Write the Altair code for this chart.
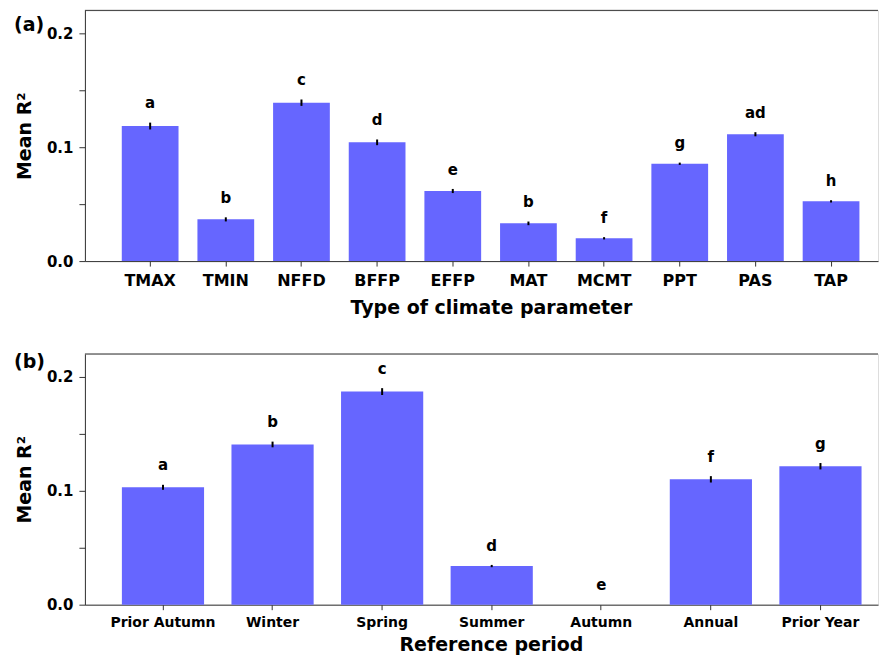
import altair as alt
import pandas as pd

# ---- data ----
params = ["TMAX", "TMIN", "NFFD", "BFFP", "EFFP", "MAT", "MCMT", "PPT", "PAS", "TAP"]
param_mean = [0.1185, 0.0366, 0.1390, 0.1042, 0.0615, 0.0331, 0.0200, 0.0854, 0.1113, 0.0524]
param_err = [0.0030, 0.0018, 0.0028, 0.0025, 0.0018, 0.0016, 0.0010, 0.0010, 0.0018, 0.0010]
param_letters = ["a", "b", "c", "d", "e", "b", "f", "g", "ad", "h"]

periods = ["Prior Autumn", "Winter", "Spring", "Summer", "Autumn", "Annual", "Prior Year"]
period_mean = [0.1030, 0.1406, 0.1870, 0.0339, 0.0, 0.1100, 0.1215]
period_err = [0.0022, 0.0025, 0.0030, 0.0010, 0.0, 0.0028, 0.0028]
period_letters = ["a", "b", "c", "d", "e", "f", "g"]

y_ticks = [0, 0.05, 0.1, 0.15, 0.2]

W = 794
BAR = "#6666ff"
AX = "#333333"


def panel(cats, means, errs, letters, tag, tag_y, xtitle, label_size, height,
          p_outer, align, title_pad):
    df = pd.DataFrame({
        "cat": cats,
        "mean": means,
        "lo": [m - e for m, e in zip(means, errs)],
        "hi": [m + e for m, e in zip(means, errs)],
        "lab_y": [m + e + 0.01 for m, e in zip(means, errs)],
        "letter": letters,
    })
    xscale = alt.Scale(paddingInner=0.25, paddingOuter=p_outer, align=align)
    xaxis = alt.Axis(title=xtitle, labelAngle=0, labelFontSize=label_size,
                     labelFontWeight="bold", labelColor="black",
                     titleFontSize=19, titleFontWeight="bold", titleColor="black",
                     tickSize=5, labelPadding=6, titlePadding=title_pad,
                     titleX=W / 2 + 9.5, titleAnchor="start", titleAlign="center",
                     domainColor=AX, tickColor=AX, grid=False)
    yscale = alt.Scale(domain=[0, 0.22], nice=False, zero=True)
    yaxis = alt.Axis(title="Mean R²", values=y_ticks,
                     labelExpr="(round(datum.value*100) % 10 == 0) ? format(datum.value, '.1f') : ''",
                     labelFontSize=15, labelFontWeight="bold", labelColor="black",
                     titleFontSize=19, titleFontWeight="bold", titleColor="black",
                     tickSize=6, labelPadding=6, titlePadding=12,
                     domainColor=AX, tickColor=AX, grid=False)
    base = alt.Chart(df)
    x = alt.X("cat:N", sort=cats, scale=xscale, axis=xaxis)
    bars = base.mark_bar(color=BAR).encode(
        x=x, y=alt.Y("mean:Q", scale=yscale, axis=yaxis))
    err = base.mark_rule(color="black", strokeWidth=2).encode(
        x=alt.X("cat:N", sort=cats), y="lo:Q", y2="hi:Q")
    txt = base.mark_text(baseline="bottom", fontSize=15, fontWeight="bold",
                         color="black").encode(
        x=alt.X("cat:N", sort=cats), y="lab_y:Q", text="letter:N")
    frame = alt.Chart(pd.DataFrame({"k": [0]})).mark_rule(
        color=AX, strokeWidth=1).encode(
        x=alt.value(0), x2=alt.value(W), y=alt.value(0))
    tag_txt = alt.Chart(pd.DataFrame({"t": [tag]})).mark_text(
        align="left", baseline="alphabetic", fontSize=19, fontWeight="bold",
        color="black").encode(x=alt.value(-71), y=alt.value(tag_y), text="t:N")
    return alt.layer(bars, err, txt, frame, tag_txt).properties(width=W, height=height)


top = panel(params, param_mean, param_err, param_letters, "(a)", 20.5,
            "Type of climate parameter", 16, 251, 0.3664, 0.665, 10)
bottom = panel(periods, period_mean, period_err, period_letters, "(b)", 14,
               "Reference period", 14, 251, 0.2438, 0.692, 6)

chart = alt.vconcat(top, bottom, spacing=34).properties(
    padding={"left": 5, "top": 1, "right": 0, "bottom": 0}
).configure_view(stroke=None).configure(font="DejaVu Sans")

chart.save("out.html", embed_options={"renderer": "svg", "actions": False})
